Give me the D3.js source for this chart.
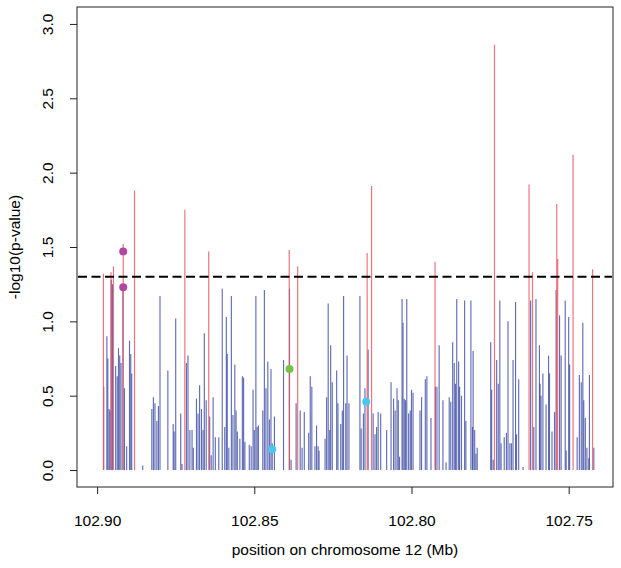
<!DOCTYPE html>
<html>
<head>
<meta charset="utf-8">
<script src="https://cdn.jsdelivr.net/npm/d3@7"></script>
<style>
  html, body { margin: 0; padding: 0; background: #fff; }
  svg { display: block; font-family: "Liberation Sans", Arial, Helvetica, sans-serif; }
</style>
</head>
<body>
<svg id="chart" width="621" height="568"></svg>
<script>
// SNP positions (Mb) and -log10(p-value)
const snpPos = [
102.8980,102.8979,102.8969,102.8966,102.8962,102.8959,102.8956,102.8955,102.8951,102.8948,
102.8941,102.8936,102.8932,102.8928,102.8924,102.8917,102.8918,102.8913,102.8906,102.8897,
102.8893,102.8890,102.8881,102.8855,102.8826,102.8821,102.8816,102.8810,102.8805,102.8800,
102.8775,102.8758,102.8755,102.8750,102.8734,102.8730,102.8721,102.8716,102.8711,102.8705,
102.8698,102.8694,102.8684,102.8679,102.8674,102.8668,102.8663,102.8659,102.8653,102.8645,
102.8642,102.8637,102.8631,102.8624,102.8613,102.8602,102.8594,102.8589,102.8586,102.8581,
102.8573,102.8568,102.8562,102.8558,102.8554,102.8546,102.8538,102.8534,102.8530,102.8516,
102.8510,102.8504,102.8500,102.8495,102.8491,102.8487,102.8473,102.8468,102.8463,102.8457,
102.8452,102.8447,102.8443,102.8436,102.8407,102.8389,102.8388,102.8383,102.8367,102.8362,
102.8354,102.8348,102.8341,102.8327,102.8322,102.8317,102.8307,102.8302,102.8297,102.8294,
102.8275,102.8270,102.8265,102.8260,102.8257,102.8252,102.8238,102.8234,102.8225,102.8220,
102.8216,102.8209,102.8205,102.8199,102.8164,102.8160,102.8153,102.8148,102.8141,102.8138,
102.8127,102.8122,102.8116,102.8111,102.8106,102.8098,102.8079,102.8065,102.8057,102.8052,
102.8046,102.8042,102.8038,102.8030,102.8027,102.8023,102.8019,102.8015,102.8009,102.8004,
102.8000,102.7995,102.7973,102.7968,102.7956,102.7951,102.7938,102.7925,102.7924,102.7919,
102.7912,102.7900,102.7890,102.7880,102.7875,102.7869,102.7864,102.7860,102.7856,102.7850,
102.7847,102.7841,102.7831,102.7827,102.7811,102.7806,102.7804,102.7799,102.7795,102.7791,
102.7748,102.7745,102.7740,102.7736,102.7729,102.7724,102.7719,102.7715,102.7705,102.7698,
102.7693,102.7687,102.7682,102.7677,102.7669,102.7666,102.7659,102.7645,102.7626,102.7621,
102.7615,102.7611,102.7604,102.7593,102.7591,102.7588,102.7582,102.7572,102.7564,102.7561,
102.7553,102.7545,102.7540,102.7538,102.7535,102.7529,102.7524,102.7511,102.7508,102.7500,
102.7497,102.7486,102.7473,102.7466,102.7460,102.7455,102.7452,102.7447,102.7442,102.7436,
102.7434,102.7424,102.7420
];
const snpLogP = [
1.32,0.56,0.90,0.75,0.41,0.40,1.33,1.28,1.25,1.37,
0.70,0.63,0.82,0.77,0.72,1.52,1.23,0.55,0.16,0.87,
0.78,0.65,1.88,0.03,0.41,0.49,0.45,0.33,0.43,1.17,
0.67,0.31,0.26,1.02,0.38,0.04,1.75,0.72,0.77,0.27,
0.27,0.15,0.48,0.38,0.57,0.41,0.27,0.92,0.47,1.47,
0.36,0.10,0.49,0.22,0.22,1.22,0.29,1.03,0.78,0.15,
1.17,0.37,0.71,0.40,0.26,0.21,0.63,0.62,0.19,0.17,
0.16,0.54,0.27,1.17,0.29,0.30,0.40,1.21,0.55,0.73,
0.34,0.68,0.18,0.36,0.74,1.48,1.22,0.07,0.45,1.37,
0.40,0.15,0.39,0.25,0.63,0.56,0.16,0.30,0.16,0.13,
0.21,0.49,1.12,0.27,0.84,0.59,0.67,0.45,0.31,0.40,
1.17,0.45,0.77,0.45,1.17,0.28,0.38,0.55,1.46,0.81,
1.91,0.38,0.24,0.29,0.39,0.38,0.27,0.59,0.48,0.40,
0.55,0.47,0.09,1.15,0.99,0.48,0.47,1.15,0.38,0.40,
0.54,0.52,0.40,0.49,0.61,0.63,0.35,1.40,0.56,0.56,
0.84,0.47,0.05,0.49,0.46,0.86,0.72,0.58,1.15,0.73,
0.56,0.50,1.14,0.33,1.14,0.29,0.80,0.27,0.11,0.15,
0.86,0.54,0.07,2.86,0.74,0.58,1.14,0.18,0.22,0.25,
1.00,0.18,0.18,0.74,1.13,0.24,0.61,0.02,1.92,1.14,
1.33,0.29,1.15,0.84,0.58,0.50,0.65,0.44,0.77,0.65,
0.26,0.39,1.21,1.79,1.42,1.04,0.77,1.14,0.13,1.03,
0.71,2.12,0.22,0.64,0.59,0.99,0.47,0.35,0.15,0.08,
0.64,1.35,0.15
];
// highlighted SNPs
const hlPos   = [102.8917, 102.8917, 102.8388, 102.8443, 102.8144];
const hlLogP  = [1.47, 1.23, 0.68, 0.14, 0.46];
const hlGroup = ["purple", "purple", "green", "cyan", "cyan"];
// axis ticks and labels
const xTicks = [102.90, 102.85, 102.80, 102.75];
const yTicks = [0.0, 0.5, 1.0, 1.5, 2.0, 2.5, 3.0];
const threshold = 1.3;
const xTitle = "position on chromosome 12 (Mb)";
const yTitle = "-log10(p-value)";

const groupColor = { purple: "#b2479f", green: "#77c244", cyan: "#4cc6ee" };

const svg = d3.select("#chart");
const L = 77, R = 613, T = 7, B = 487;

const x = d3.scaleLinear().domain([102.9064, 102.7359]).range([L, R]);
const y = d3.scaleLinear().domain([-0.114, 3.114]).range([B, T]);

const data = snpPos.map((p, i) => ({ p, v: snpLogP[i] }));

// blue lines first, red (above threshold) on top
const plot = svg.append("g");
plot.selectAll("line.blue")
  .data(data.filter(d => d.v < threshold))
  .join("line")
  .attr("class", "blue")
  .attr("x1", d => x(d.p)).attr("x2", d => x(d.p))
  .attr("y1", y(0)).attr("y2", d => y(d.v))
  .attr("stroke", "#3544a0")
  .attr("stroke-opacity", 0.78)
  .attr("stroke-width", 1.15);

plot.selectAll("line.red")
  .data(data.filter(d => d.v >= threshold))
  .join("line")
  .attr("class", "red")
  .attr("x1", d => x(d.p)).attr("x2", d => x(d.p))
  .attr("y1", y(0)).attr("y2", d => y(d.v))
  .attr("stroke", "#ec5560")
  .attr("stroke-opacity", 0.82)
  .attr("stroke-width", 1.2);

// threshold line
svg.append("line")
  .attr("x1", L + 1).attr("x2", R - 1)
  .attr("y1", y(threshold)).attr("y2", y(threshold))
  .attr("stroke", "#000")
  .attr("stroke-width", 2.2)
  .attr("stroke-dasharray", "9,4.5");

// highlighted points
svg.selectAll("circle.hl")
  .data(hlPos.map((p, i) => ({ p, v: hlLogP[i], g: hlGroup[i] })))
  .join("circle")
  .attr("class", "hl")
  .attr("cx", d => x(d.p)).attr("cy", d => y(d.v))
  .attr("r", 4)
  .attr("fill", d => groupColor[d.g]);

// box
svg.append("rect")
  .attr("x", L).attr("y", T)
  .attr("width", R - L).attr("height", B - T)
  .attr("fill", "none").attr("stroke", "#222").attr("stroke-width", 1);

// x axis
const xAxis = svg.append("g")
  .attr("transform", `translate(0,${B})`)
  .call(d3.axisBottom(x).tickValues(xTicks).tickFormat(d3.format(".2f"))
        .tickSize(7).tickSizeOuter(0).tickPadding(21));
xAxis.select(".domain").remove();
xAxis.selectAll("line").attr("stroke", "#222");
xAxis.selectAll("text").attr("font-size", 15.5).attr("fill", "#000")
  .attr("font-family", "Liberation Sans, Arial, sans-serif");

// y axis
const yAxis = svg.append("g")
  .attr("transform", `translate(${L},0)`)
  .call(d3.axisLeft(y).tickValues(yTicks).tickFormat(d3.format(".1f"))
        .tickSize(7).tickSizeOuter(0));
yAxis.select(".domain").remove();
yAxis.selectAll("line").attr("stroke", "#222");
yAxis.selectAll(".tick text")
  .attr("font-size", 15.5).attr("fill", "#000")
  .attr("font-family", "Liberation Sans, Arial, sans-serif")
  .attr("text-anchor", "middle")
  .attr("x", null).attr("dy", null).attr("y", 0)
  .attr("transform", `translate(${53 - L},0) rotate(-90)`);

// titles
svg.append("text")
  .attr("x", (L + R) / 2).attr("y", 555)
  .attr("text-anchor", "middle")
  .attr("font-size", 15.5)
  .text(xTitle);

svg.append("text")
  .attr("transform", `translate(20,${(T + B) / 2}) rotate(-90)`)
  .attr("text-anchor", "middle")
  .attr("font-size", 15.5)
  .text(yTitle);
</script>
</body>
</html>
